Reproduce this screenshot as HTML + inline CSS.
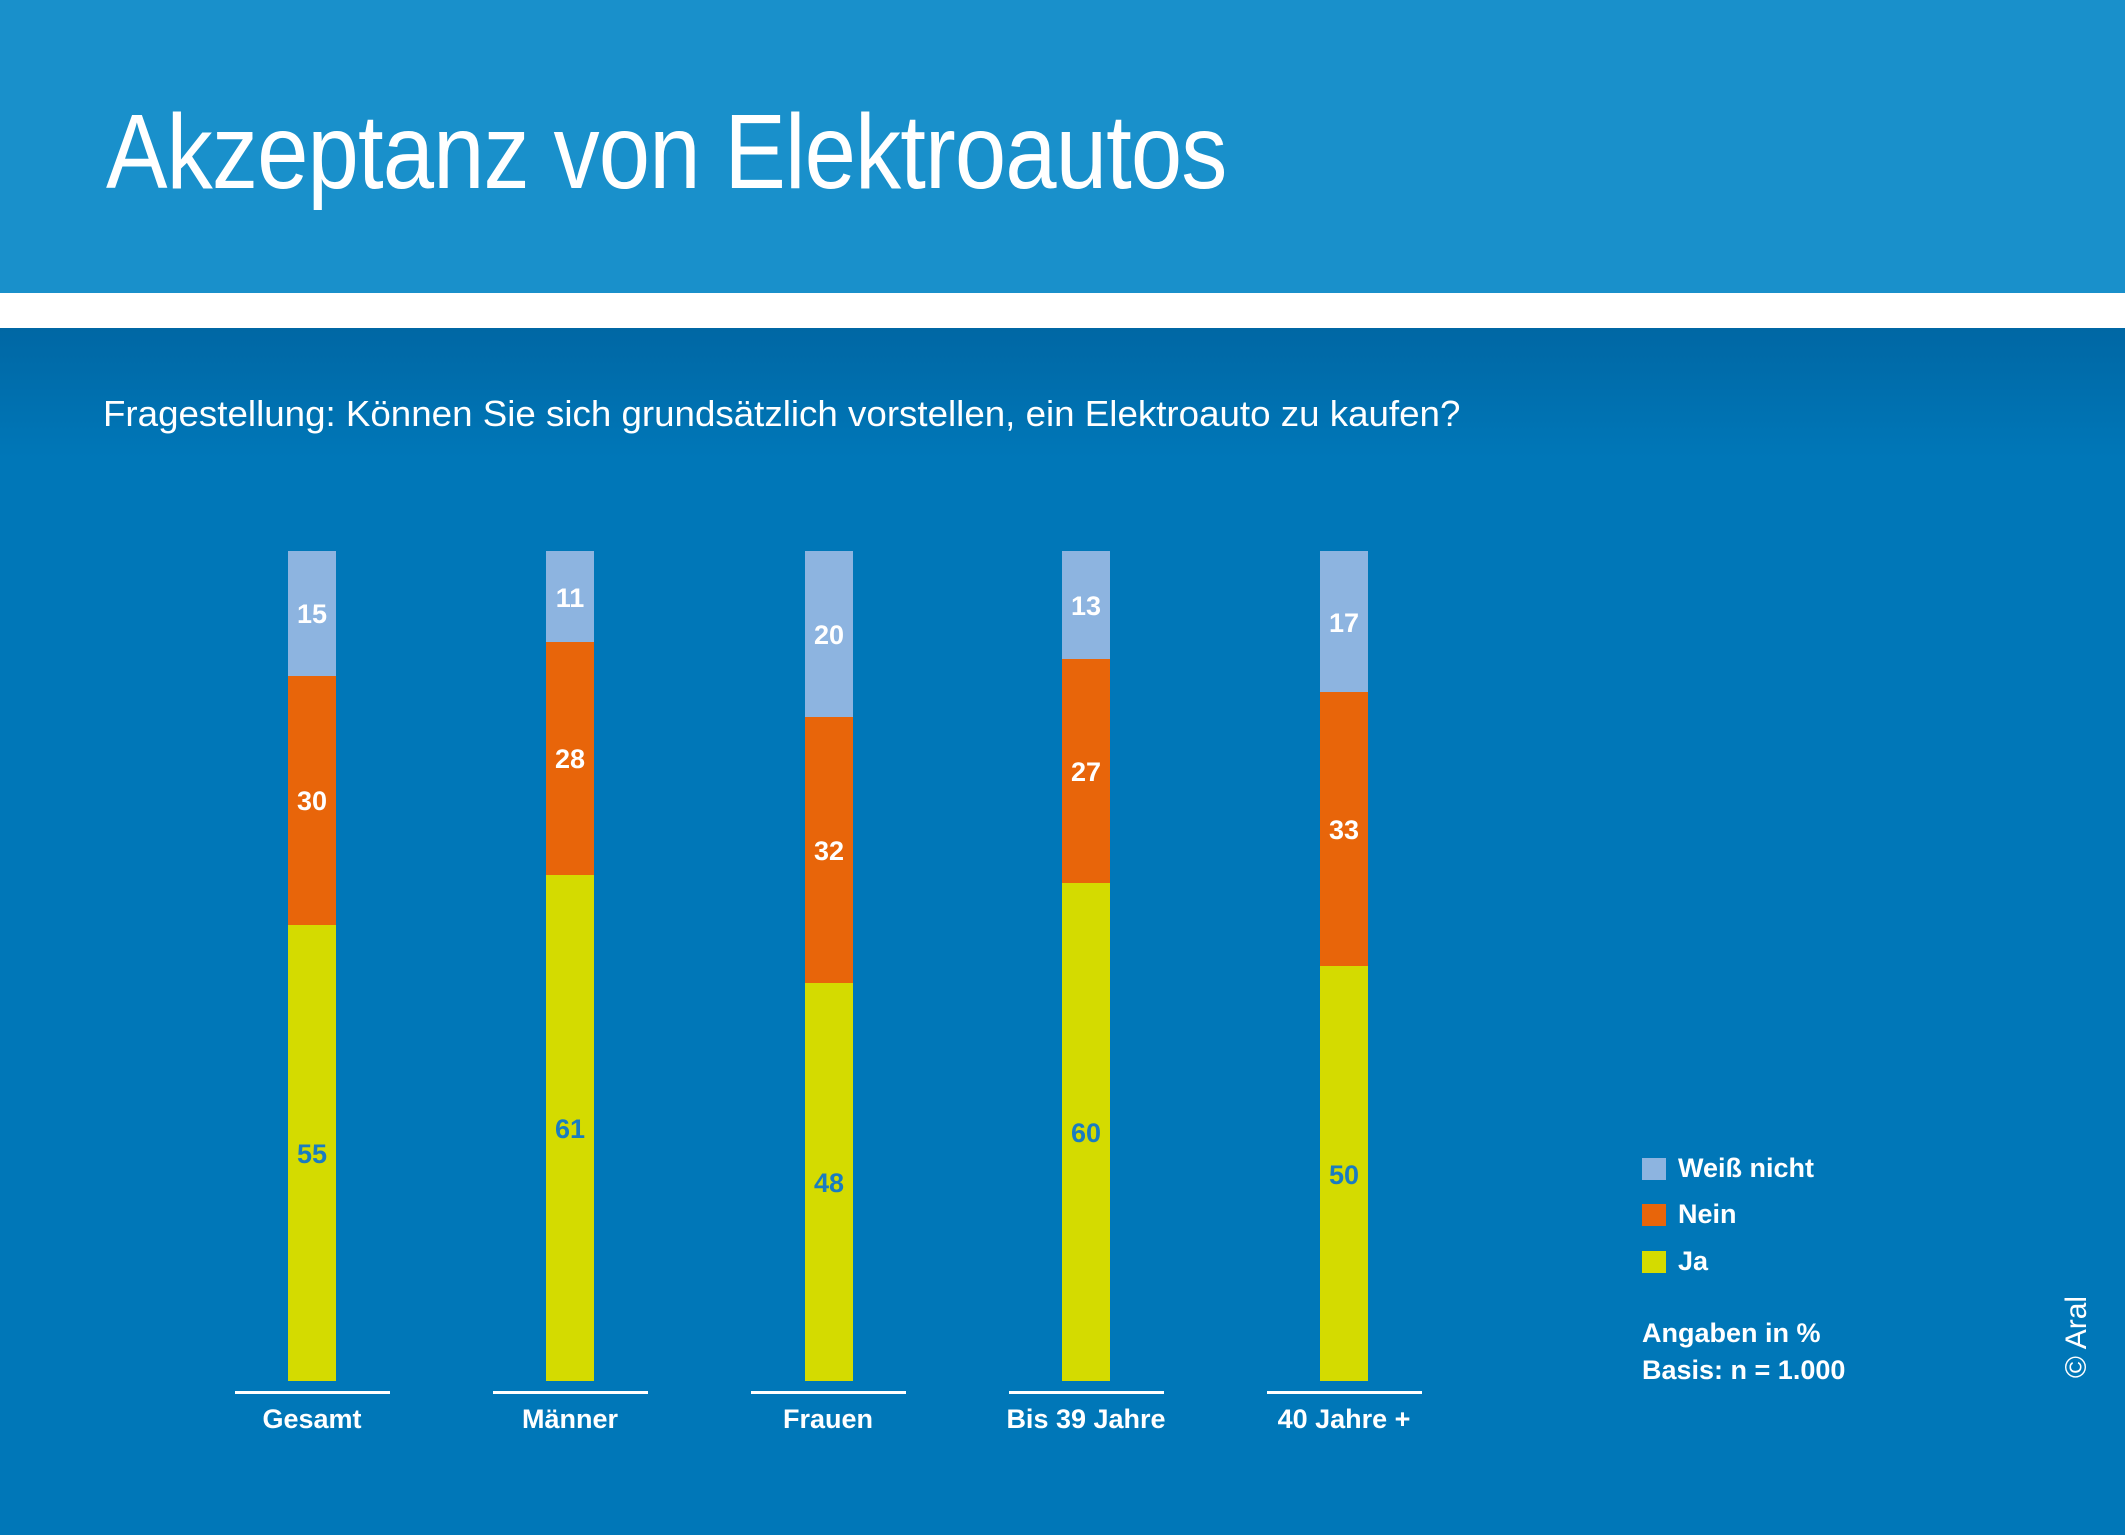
<!DOCTYPE html>
<html><head><meta charset="utf-8"><style>
body{margin:0;width:2125px;height:1535px;overflow:hidden;position:relative;font-family:"Liberation Sans",sans-serif;background:#0077b8}
.hdr{position:absolute;left:0;top:0;width:2125px;height:293px;background:#1990cb}
.wb{position:absolute;left:0;top:293px;width:2125px;height:35px;background:#fff}
.body{position:absolute;left:0;top:328px;width:2125px;height:1207px;background:linear-gradient(#0067a4 0,#0077b8 130px,#0077b8 100%)}
.t{position:absolute;color:#fff;white-space:nowrap}
.bar{position:absolute;width:48px;top:551px;height:830px}
.seg{position:absolute;left:0;width:48px;display:flex;align-items:center;justify-content:center;font-weight:bold;font-size:27px;color:#fff;padding-top:3px;box-sizing:border-box}
.w{background:#8db4e0}.n{background:#e8650a}.j{background:#d4db00;color:#1a7cc0}
.ln{position:absolute;top:1391px;width:155px;height:3px;background:#fff}
.lab{position:absolute;top:1404px;width:200px;text-align:center;color:#fff;font-weight:bold;font-size:27px}
.sq{position:absolute;left:1642px;width:24px;height:22px}
</style></head><body>
<div class="hdr"></div><div class="wb"></div><div class="body"></div>
<div class="t" style="left:106px;top:92px;font-size:106px;letter-spacing:-1px;transform:scaleX(0.87);transform-origin:left">Akzeptanz von Elektroautos</div>
<div class="t" style="left:103px;top:393px;font-size:36px;transform:scaleX(1.02);transform-origin:left">Fragestellung: Können Sie sich grundsätzlich vorstellen, ein Elektroauto zu kaufen?</div>

<div class="bar" style="left:288px"><div class="seg w" style="top:0;height:15%">15</div><div class="seg n" style="top:15%;height:30%">30</div><div class="seg j" style="top:45%;height:55%">55</div></div>
<div class="bar" style="left:546px"><div class="seg w" style="top:0;height:11%">11</div><div class="seg n" style="top:11%;height:28%">28</div><div class="seg j" style="top:39%;height:61%">61</div></div>
<div class="bar" style="left:805px"><div class="seg w" style="top:0;height:20%">20</div><div class="seg n" style="top:20%;height:32%">32</div><div class="seg j" style="top:52%;height:48%">48</div></div>
<div class="bar" style="left:1062px"><div class="seg w" style="top:0;height:13%">13</div><div class="seg n" style="top:13%;height:27%">27</div><div class="seg j" style="top:40%;height:60%">60</div></div>
<div class="bar" style="left:1320px"><div class="seg w" style="top:0;height:17%">17</div><div class="seg n" style="top:17%;height:33%">33</div><div class="seg j" style="top:50%;height:50%">50</div></div>

<div class="ln" style="left:235px"></div><div class="ln" style="left:493px"></div><div class="ln" style="left:751px"></div><div class="ln" style="left:1009px"></div><div class="ln" style="left:1267px"></div>
<div class="lab" style="left:212px">Gesamt</div><div class="lab" style="left:470px">Männer</div><div class="lab" style="left:728px">Frauen</div><div class="lab" style="left:986px">Bis 39 Jahre</div><div class="lab" style="left:1244px">40 Jahre +</div>

<div class="sq w" style="top:1158px"></div><div class="t" style="left:1678px;top:1153px;font-size:27px;font-weight:bold">Weiß nicht</div>
<div class="sq n" style="top:1204px"></div><div class="t" style="left:1678px;top:1199px;font-size:27px;font-weight:bold">Nein</div>
<div class="sq j" style="top:1251px"></div><div class="t" style="left:1678px;top:1246px;font-size:27px;font-weight:bold">Ja</div>
<div class="t" style="left:1642px;top:1315px;font-size:27px;font-weight:bold;line-height:37px">Angaben in %<br>Basis: n = 1.000</div>
<div class="t" style="left:2077px;top:1337px;font-size:30px;transform:translate(-50%,-50%) rotate(-90deg)">© Aral</div>
</body></html>
